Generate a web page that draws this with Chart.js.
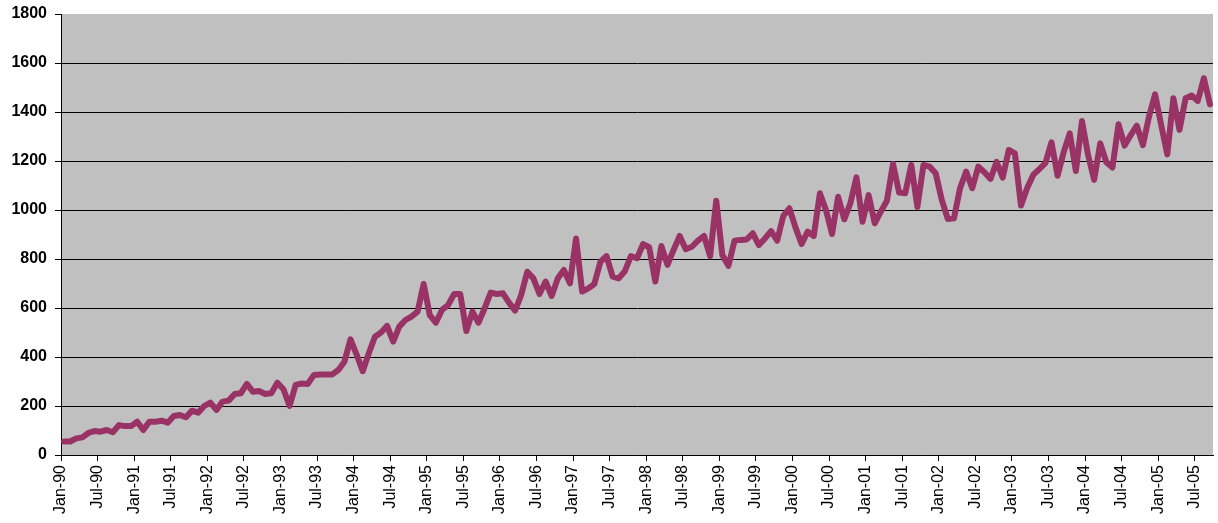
<!DOCTYPE html>
<html>
<head>
<meta charset="utf-8">
<script src="https://cdn.jsdelivr.net/npm/chart.js@4/dist/chart.umd.min.js"></script>
<style>
    html, body { margin: 0; padding: 0; background: #fff; }
    #wrap { width: 1218px; height: 523px; }
</style>
</head>
<body>
<div id="wrap"><canvas id="chart" width="1218" height="523"></canvas></div>
<script>
// monthly values, Jan-90 .. Sep-05 (one row per year)
const values = [
    55, 55, 68, 72, 90, 98, 95, 102, 93, 122, 118, 118,
    136, 102, 136, 136, 140, 132, 159, 163, 154, 181, 173, 200,
    214, 184, 218, 222, 249, 252, 290, 258, 261, 249, 252, 295,
    268, 200, 286, 292, 290, 327, 329, 329, 329, 347, 381, 472,
    410, 342, 415, 483, 500, 527, 463, 524, 551, 565, 585, 698,
    571, 540, 592, 612, 657, 657, 506, 585, 540, 599, 663, 657,
    660, 622, 589, 653, 748, 721, 657, 708, 649, 721, 755, 701,
    884, 667, 680, 698, 789, 812, 728, 721, 750, 812, 803, 861,
    848, 708, 853, 776, 837, 894, 840, 850, 875, 894, 812, 1038,
    816, 772, 875, 878, 880, 905, 857, 884, 914, 875, 976, 1007,
    929, 861, 912, 894, 1068, 1000, 902, 1054, 962, 1027, 1133, 952,
    1061, 946, 993, 1038, 1188, 1071, 1068, 1184, 1012, 1184, 1177, 1150,
    1041, 963, 966, 1089, 1157, 1089, 1177, 1154, 1127, 1197, 1132, 1245,
    1231, 1018, 1089, 1143, 1167, 1191, 1276, 1140, 1236, 1313, 1159, 1363,
    1225, 1123, 1272, 1195, 1173, 1350, 1263, 1306, 1344, 1265, 1381, 1472,
    1347, 1227, 1456, 1327, 1456, 1467, 1445, 1538, 1431
];

// x-axis labels, one every 6 months
const tickLabels = [
    'Jan-90', 'Jul-90', 'Jan-91', 'Jul-91', 'Jan-92', 'Jul-92', 'Jan-93', 'Jul-93',
    'Jan-94', 'Jul-94', 'Jan-95', 'Jul-95', 'Jan-96', 'Jul-96', 'Jan-97', 'Jul-97',
    'Jan-98', 'Jul-98', 'Jan-99', 'Jul-99', 'Jan-00', 'Jul-00', 'Jan-01', 'Jul-01',
    'Jan-02', 'Jul-02', 'Jan-03', 'Jul-03', 'Jan-04', 'Jul-04', 'Jan-05', 'Jul-05'
];

const yTicks = [0, 200, 400, 600, 800, 1000, 1200, 1400, 1600, 1800];

// grey plot area, like the Excel original
const plotBg = {
    id: 'plotBg',
    beforeDraw(chart) {
        const { ctx, chartArea: a } = chart;
        ctx.save();
        ctx.fillStyle = '#c0c0c0';
        ctx.fillRect(a.left, a.top, a.right - a.left, a.bottom - a.top);
        ctx.restore();
    }
};

Chart.defaults.font.family = '"Liberation Sans", Arial, sans-serif';
Chart.defaults.color = '#000';

new Chart(document.getElementById('chart'), {
    type: 'line',
    data: {
        datasets: [{
            data: values.map((v, i) => ({ x: i + 0.5, y: v })),
            borderColor: '#993366',
            borderWidth: 6,
            borderJoinStyle: 'round',
            borderCapStyle: 'round',
            pointRadius: 0,
            tension: 0,
            fill: false
        }]
    },
    options: {
        responsive: false,
        animation: false,
        layout: { padding: { left: 0, top: 14, right: 5, bottom: 0 } },
        plugins: {
            legend: { display: false },
            tooltip: { enabled: false }
        },
        scales: {
            x: {
                type: 'linear',
                min: 0,
                max: values.length,
                afterFit: (s) => { s.height = 68; },
                border: { color: '#000', width: 1 },
                grid: { drawOnChartArea: false, color: '#000', tickLength: 6 },
                ticks: {
                    stepSize: 6,
                    includeBounds: false,
                    autoSkip: false,
                    minRotation: 90,
                    maxRotation: 90,
                    padding: 4,
                    font: { size: 16 },
                    callback: (v) => tickLabels[v / 6] ?? ''
                }
            },
            y: {
                min: yTicks[0],
                max: yTicks[yTicks.length - 1],
                afterFit: (s) => {
                    s.width = 61;
                    s.paddingTop = 0;
                    s.paddingBottom = 0;
                },
                afterBuildTicks: (s) => { s.ticks = yTicks.map(v => ({ value: v })); },
                border: { color: '#000', width: 1 },
                grid: {
                    color: (c) => c.tick && c.tick.value === 1800 ? 'rgba(0,0,0,0)' : '#000',
                    tickColor: '#000',
                    tickLength: 6
                },
                ticks: {
                    padding: 8,
                    font: { size: 16, weight: 'bold' },
                    callback: (v) => String(v)
                }
            }
        }
    },
    plugins: [plotBg]
});
</script>
</body>
</html>
